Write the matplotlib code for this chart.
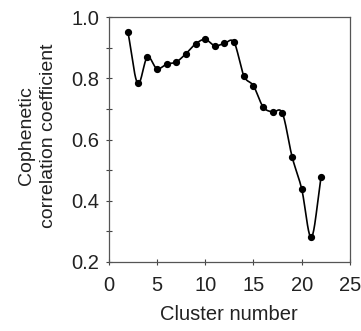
import numpy as np
import matplotlib.pyplot as plt

plt.rcParams['font.family'] = ['Liberation Sans', 'DejaVu Sans']

# --- Data ---
clusters = [2, 3, 4, 5, 6, 7, 8, 9, 10, 11, 12, 13, 14, 15, 16, 17, 18, 19, 20, 21, 22]
coph = [0.952, 0.784, 0.870, 0.832, 0.847, 0.854, 0.881, 0.913, 0.928, 0.907,
        0.915, 0.918, 0.809, 0.776, 0.707, 0.690, 0.686, 0.544, 0.438, 0.280, 0.478]


def smooth_line(x, y, n=20):
    # Catmull-Rom style smoothing (like a spreadsheet "smoothed line")
    x = np.asarray(x, float)
    y = np.asarray(y, float)
    px = np.concatenate([[2 * x[0] - x[1]], x, [2 * x[-1] - x[-2]]])
    py = np.concatenate([[2 * y[0] - y[1]], y, [2 * y[-1] - y[-2]]])
    xs, ys = [], []
    t = np.linspace(0, 1, n, endpoint=False)
    for i in range(1, len(px) - 2):
        for p, out in ((px, xs), (py, ys)):
            p0, p1, p2, p3 = p[i - 1], p[i], p[i + 1], p[i + 2]
            out.extend(0.5 * ((2 * p1) + (-p0 + p2) * t
                              + (2 * p0 - 5 * p1 + 4 * p2 - p3) * t**2
                              + (-p0 + 3 * p1 - 3 * p2 + p3) * t**3))
    xs.append(x[-1])
    ys.append(y[-1])
    return np.array(xs), np.array(ys)


fig = plt.figure(figsize=(3.61, 3.31), dpi=100)
ax = fig.add_axes([0.301, 0.209, 0.6685, 0.7385])

sx, sy = smooth_line(clusters, coph)
ax.plot(sx, sy, color='black', lw=1.2)
ax.plot(clusters, coph, 'o', color='black', ms=4.2)

ax.set_xlim(0, 25)
ax.set_ylim(0.2, 1.0)
ax.set_xticks([0, 5, 10, 15, 20, 25])
ax.set_yticks([0.2, 0.4, 0.6, 0.8, 1.0])
ax.set_yticks(np.arange(0.3, 1.0, 0.2), minor=True)
ax.yaxis.set_major_formatter(plt.FormatStrFormatter('%.1f'))
ax.tick_params(which='both', direction='inout', length=5, width=0.8,
               labelsize=14.5, colors='#444444', labelcolor='#222222')
ax.tick_params(axis='x', pad=8)
ax.tick_params(axis='y', pad=4.5)
for s in ax.spines.values():
    s.set_color('#555555')
    s.set_linewidth(0.9)

ax.set_xlabel('Cluster number', fontsize=14.5, color='#222222')
ax.set_ylabel('Cophenetic\ncorrelation coefficient', fontsize=14,
              color='#222222', linespacing=1.4)
ax.xaxis.set_label_coords(0.5, -0.175)
ax.yaxis.set_label_coords(-0.215, 0.515)

fig.savefig('out.png', dpi=100)
